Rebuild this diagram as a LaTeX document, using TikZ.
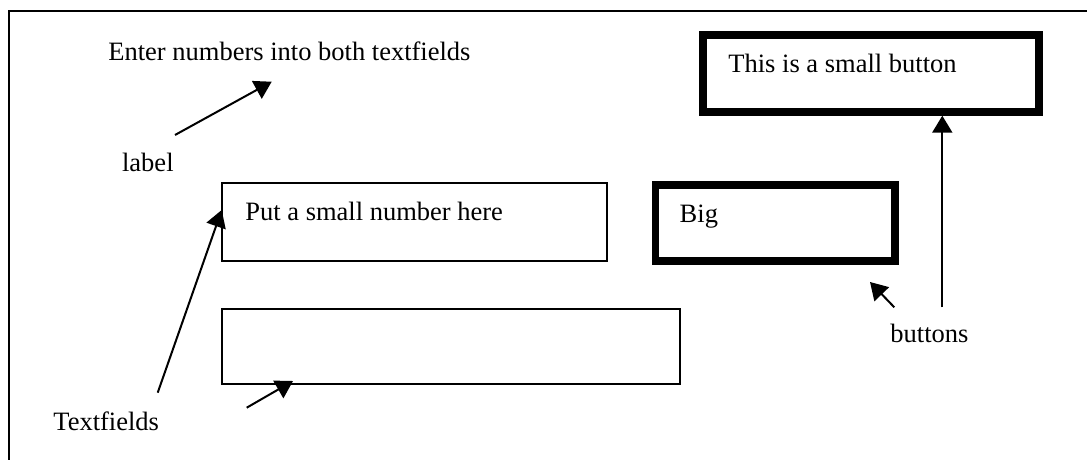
\documentclass[tikz,border=0pt]{standalone}
\usepackage{fontspec}
\setmainfont{Liberation Serif}
\usetikzlibrary{arrows.meta}
\begin{document}
\begin{tikzpicture}[x=0.5pt,y=-0.5pt,
  lbl/.style={anchor=base west,inner sep=0pt,font=\fontsize{13.25pt}{15pt}\selectfont},
  field/.style={draw,line width=1pt,inner sep=0pt,outer sep=0pt},
  btn/.style={draw,line width=4pt,inner sep=0pt,outer sep=0pt},
  pointer/.style={line width=1pt,-{Triangle[length=8.5pt,width=10pt]}}]
\useasboundingbox (0,0) rectangle (1087,460);
\clip (0,0) rectangle (1087,460);
% frame of the form (runs off the right and bottom)
\draw[line width=1pt] (9,520) |- (1140,10.7);

% captions
\node[lbl] (heading) at (108,60.7) {Enter numbers into both textfields};
\node[lbl] (labeltxt) at (121.7,171.7) {label};
\node[lbl] (tfs) at (53,430.3) {Textfields};
\node[lbl] (btns) at (890,342.7) {buttons};

% text fields
\node[field,minimum width=192.5pt,minimum height=39pt] (tf1) at (414.5,222) {};
\node[field,minimum width=229pt,minimum height=37.5pt] (tf2) at (451,346.8) {};
\node[lbl] (tf1txt) at (245,220.7) {Put a small number here};

% buttons
\node[btn,line width=3.75pt,minimum width=119.75pt,minimum height=38pt] (big) at (775.25,223) {};
\node[btn,minimum width=168pt,minimum height=38.35pt] (small) at (871.3,73.35) {};
\node[lbl] (bigtxt) at (679.3,222.7) {Big};
\node[lbl] (smalltxt) at (728,73) {This is a small button};

% pointer ends
\coordinate (labeltail) at (175,135);
\coordinate (labeltip) at (271.7,81.7);
\coordinate (tfstail) at (157.7,392.7);
\coordinate (tf1tip) at (221.7,210);
\coordinate (tf2tail) at (246.7,407.7);
\coordinate (tf2tip) at (293,381);
\coordinate (bigtail) at (894.3,307.3);
\coordinate (bigtip) at (870,282);
\coordinate (smalltail) at (942.3,307.3);
\coordinate (smalltip) at (942.3,115.7);

% pointers
\draw[pointer] (labeltail) -- (labeltip);
\draw[pointer] (tfstail) -- (tf1tip);
\draw[pointer] (tf2tail) -- (tf2tip);
\draw[pointer] (bigtail) -- (bigtip);
\draw[pointer] (smalltail) -- (smalltip);
\end{tikzpicture}
\end{document}
